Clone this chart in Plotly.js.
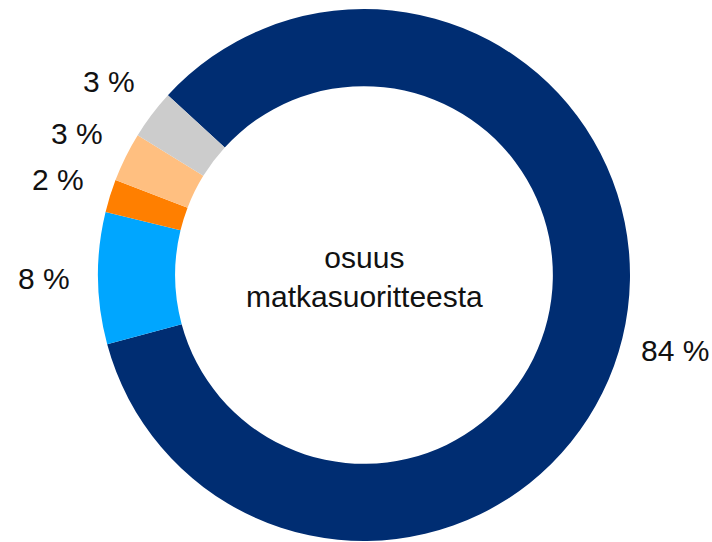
<!DOCTYPE html>
<html>
<head>
<meta charset="utf-8">
<script src="https://cdn.plot.ly/plotly-3.0.1.min.js"></script>
<style>html,body{margin:0;padding:0;background:#fff;}#chart{width:712px;height:542px;}</style>
</head>
<body>
<div id="chart"></div>
<script>
// Data (share of travel performance, %)
var categories = ["osuus 1", "osuus 2", "osuus 3", "osuus 4", "osuus 5"];
var shares = [84, 8, 2, 3, 3];
var sliceLabels = ["84 %", "8 %", "2 %", "3 %", "3 %"];
var sliceColors = ["#002d72", "#00a6ff", "#ff7f00", "#ffbf80", "#cccccc"];
var centerText = "osuus<br>matkasuoritteesta";

var W = 712, H = 542;
var startAngle = -47.5;            // degrees clockwise from 12 o'clock
var cx = 364, cy = 275, R = 266;   // pie geometry in pixels
var labelR = 320;                  // radius of label centres
var FONT = "Liberation Sans, Arial, sans-serif";

var trace = {
  type: "pie",
  labels: categories,
  values: shares,
  textinfo: "none",
  hole: 0.71,
  sort: false,
  direction: "clockwise",
  rotation: startAngle,
  marker: {colors: sliceColors, line: {width: 0}},
  domain: {x: [(cx - R) / W, (cx + R) / W], y: [(H - cy - R) / H, (H - cy + R) / H]},
  showlegend: false,
  hoverinfo: "none"
};

// labels placed along each slice's mid-angle, derived from the shares
var total = shares.reduce(function (a, b) { return a + b; }, 0);
var annotations = [];
var acc = 0;
for (var i = 0; i < shares.length; i++) {
  var mid = startAngle + 360 * (acc + shares[i] / 2) / total;
  acc += shares[i];
  var rad = mid * Math.PI / 180;
  var px = cx + labelR * Math.sin(rad);
  var py = cy - labelR * Math.cos(rad);
  annotations.push({
    text: sliceLabels[i],
    x: px / W, y: 1 - py / H,
    xref: "paper", yref: "paper",
    xanchor: "center", yanchor: "middle",
    showarrow: false,
    font: {family: FONT, size: 30, color: "#111111"}
  });
}
annotations.push({
  text: centerText,
  x: cx / W, y: 1 - 277 / H,
  xref: "paper", yref: "paper",
  showarrow: false,
  font: {family: FONT, size: 30, color: "#111111"}
});

var layout = {
  width: W,
  height: H,
  margin: {l: 0, r: 0, t: 0, b: 0},
  paper_bgcolor: "#ffffff",
  showlegend: false,
  annotations: annotations
};

Plotly.newPlot("chart", [trace], layout, {displayModeBar: false, staticPlot: true});
</script>
</body>
</html>
